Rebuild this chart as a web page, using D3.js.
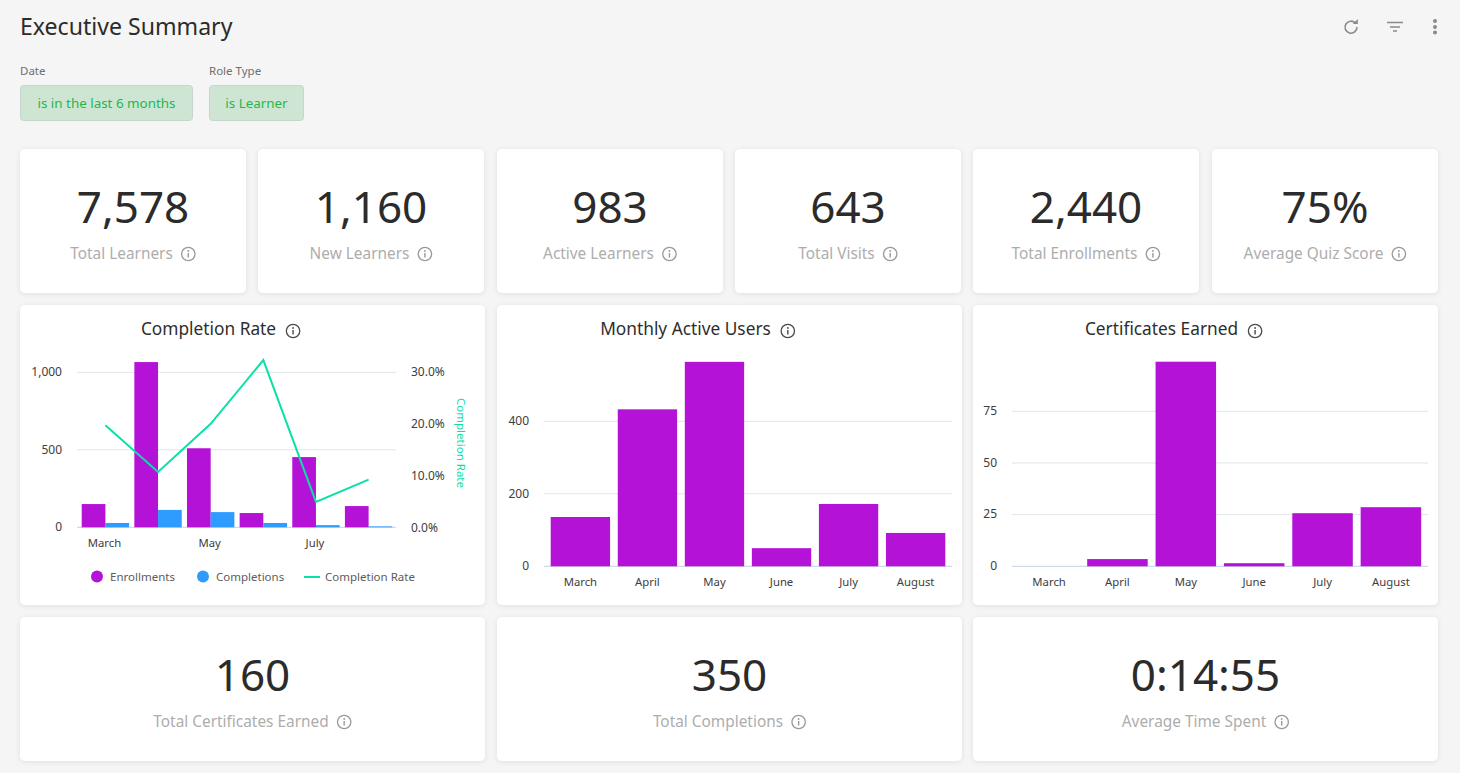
<!DOCTYPE html>
<html>
<head>
<meta charset="utf-8">
<script src="https://cdn.jsdelivr.net/npm/d3@7"></script>
<style>
html, body { margin: 0; padding: 0; background: #f5f5f5; overflow: hidden; }
svg text { font-family: "Noto Sans", sans-serif; }
</style>
</head>
<body>
<div id="chart"></div>
<script>
// chart values
const months = ["March", "April", "May", "June", "July", "August"];
const enrollments = [150, 1066, 510, 92, 453, 137];
const completions = [28, 112, 98, 28, 14, 6];
const completionRate = [19.7, 10.7, 20, 32.3, 4.9, 9.2];
const activeUsers = [136, 433, 564, 50, 172, 92];
const certificates = [0, 3.5, 99, 1.5, 25.7, 28.6];

const enrollTicks = [0, 500, 1000];
const rateTicks = [0, 10, 20, 30];
const activeTicks = [0, 200, 400];
const certTicks = [0, 25, 50, 75];
const sparseMonths = ["March", "May", "July"];

const topLabels = ["Total Learners", "New Learners", "Active Learners", "Total Visits", "Total Enrollments", "Average Quiz Score"];
const topValues = ["7,578", "1,160", "983", "643", "2,440", "75%"];
const bottomLabels = ["Total Certificates Earned", "Total Completions", "Average Time Spent"];
const bottomValues = ["160", "350", "0:14:55"];

const PURPLE = "#b512d8", BLUE = "#2e9bff", TEAL = "#0be0a8";
const width = 1460, height = 773;

const svg = d3.select("#chart").append("svg")
  .attr("width", width)
  .attr("height", height)
  .style("display", "block");

const defs = svg.append("defs");
const shadow = defs.append("filter").attr("id", "shadow")
  .attr("x", "-5%").attr("y", "-5%").attr("width", "110%").attr("height", "115%");
shadow.append("feDropShadow").attr("dx", 0).attr("dy", 1).attr("stdDeviation", 2.5)
  .attr("flood-color", "#000").attr("flood-opacity", 0.09);

function card(x, y, w, h) {
  svg.append("rect").attr("x", x).attr("y", y).attr("width", w).attr("height", h)
    .attr("rx", 5).attr("fill", "#fff").attr("filter", "url(#shadow)");
}

function infoIcon(cx, cy, color) {
  const g = svg.append("g").attr("transform", "translate(" + cx + "," + cy + ")");
  g.append("circle").attr("r", 6.7).attr("fill", "none").attr("stroke", color).attr("stroke-width", 1.3);
  g.append("rect").attr("x", -0.7).attr("y", -1).attr("width", 1.4).attr("height", 4.5).attr("fill", color);
  g.append("circle").attr("cy", -3).attr("r", 0.9).attr("fill", color);
}

// big number tile, the label and icon are centred together
function tile(x, y, w, h, value, label, valueY, labelY) {
  card(x, y, w, h);
  svg.append("text").attr("x", x + w / 2).attr("y", valueY).attr("text-anchor", "middle")
    .attr("font-size", 44).attr("fill", "#2b2b2b").text(value);
  const t = svg.append("text").attr("y", labelY).attr("font-size", 15.4).attr("fill", "#adadad").text(label);
  const tw = t.node().getComputedTextLength();
  const left = x + w / 2 - (tw + 23) / 2;
  t.attr("x", left);
  infoIcon(left + tw + 15.5, labelY - 5, "#999");
}

function chartTitle(cx, label) {
  const t = svg.append("text").attr("y", 335).attr("font-size", 17.3).attr("fill", "#2e2e2e").text(label);
  const tw = t.node().getComputedTextLength();
  const left = cx - (tw + 24) / 2;
  t.attr("x", left);
  infoIcon(left + tw + 17, 331, "#4a4a4a");
}

function styleAxis(g, size) {
  g.select(".domain").remove();
  g.selectAll(".tick line").remove();
  g.selectAll("text").attr("fill", "#3d3d3d").attr("font-size", size);
}

// header
svg.append("text").attr("x", 20).attr("y", 35).attr("font-size", 23.1).attr("fill", "#2b2b2b").text("Executive Summary");

const iconG = svg.append("g").attr("fill", "none").attr("stroke", "#8a8a8a");
iconG.append("path").attr("d", "M1355.5 23.2 A6 6 0 1 0 1357 27").attr("stroke-width", 1.6);
iconG.append("path").attr("d", "M1352.8 24 h5 v-5 z").attr("fill", "#8a8a8a").attr("stroke", "none");
iconG.append("path").attr("d", "M1387 22.5 h16 M1390 27 h10 M1393 31 h4").attr("stroke-width", 1.6);
[21, 27, 32.5].forEach(function(cy) {
  svg.append("circle").attr("cx", 1435).attr("cy", cy).attr("r", 2).attr("fill", "#8a8a8a");
});

// filters
function filterChip(x, w, title, label) {
  svg.append("text").attr("x", x).attr("y", 75).attr("font-size", 11.5).attr("fill", "#6f6f6f").text(title);
  svg.append("rect").attr("x", x + 0.5).attr("y", 85.5).attr("width", w).attr("height", 35).attr("rx", 3)
    .attr("fill", "#cfe5d4").attr("stroke", "#c6d6ca");
  svg.append("text").attr("x", x + w / 2 + 0.5).attr("y", 108).attr("text-anchor", "middle")
    .attr("font-size", 13.4).attr("fill", "#22b84a").text(label);
}
filterChip(20, 172, "Date", "is in the last 6 months");
filterChip(209, 94, "Role Type", "is Learner");

// top row of tiles
const topX = [20, 258, 497, 735, 973, 1212];
topLabels.forEach(function(label, i) {
  tile(topX[i], 149, 226, 144, topValues[i], label, 223, 259);
});

// bottom row of tiles
const bottomX = [20, 497, 973];
bottomLabels.forEach(function(label, i) {
  tile(bottomX[i], 617, 465, 144, bottomValues[i], label, 691, 727);
});

// chart cards
[20, 497, 973].forEach(function(x) { card(x, 305, 465, 300); });

// ---- Completion Rate ----
chartTitle(220.5, "Completion Rate");

const x1 = d3.scaleBand().domain(months).range([77.5, 396.5]).paddingInner(0.1).paddingOuter(0.08);
const x1Inner = d3.scaleBand().domain([0, 1]).range([0, x1.bandwidth()]);
const y1 = d3.scaleLinear().domain([0, 1000]).range([527.3, 372.3]);
const yRate = d3.scaleLinear().domain([0, 30]).range([527.3, 372]);

enrollTicks.slice(1).forEach(function(t) {
  svg.append("line").attr("x1", 77).attr("x2", 396).attr("y1", y1(t)).attr("y2", y1(t)).attr("stroke", "#e2e4e8");
});
svg.append("line").attr("x1", 77).attr("x2", 396).attr("y1", y1(0)).attr("y2", y1(0)).attr("stroke", "#c5cfe6");

svg.selectAll(".enroll").data(enrollments).enter().append("rect")
  .attr("class", "enroll")
  .attr("x", function(d, i) { return x1(months[i]) + x1Inner(0); })
  .attr("y", function(d) { return y1(d); })
  .attr("width", x1Inner.bandwidth())
  .attr("height", function(d) { return y1(0) - y1(d); })
  .attr("fill", PURPLE);
svg.selectAll(".compl").data(completions).enter().append("rect")
  .attr("class", "compl")
  .attr("x", function(d, i) { return x1(months[i]) + x1Inner(1); })
  .attr("y", function(d) { return y1(d); })
  .attr("width", x1Inner.bandwidth())
  .attr("height", function(d) { return y1(0) - y1(d); })
  .attr("fill", BLUE);

const rateLine = d3.line()
  .x(function(d, i) { return x1(months[i]) + x1.bandwidth() / 2; })
  .y(function(d) { return yRate(d); });
svg.append("path").datum(completionRate).attr("d", rateLine)
  .attr("fill", "none").attr("stroke", TEAL).attr("stroke-width", 2);

svg.append("g").attr("transform", "translate(65,-0.5)")
  .call(d3.axisLeft(y1).tickValues(enrollTicks).tickSize(0).tickFormat(d3.format(",")))
  .call(styleAxis, 12);
svg.append("g").attr("transform", "translate(408,0)")
  .call(d3.axisRight(yRate).tickValues(rateTicks).tickSize(0).tickFormat(function(d) { return d.toFixed(1) + "%"; }))
  .call(styleAxis, 12);
svg.append("g").attr("transform", "translate(-1,535.5)")
  .call(d3.axisBottom(x1).tickValues(sparseMonths).tickSize(0))
  .call(styleAxis, 11.3);

svg.append("text").attr("transform", "translate(457,443) rotate(90)").attr("text-anchor", "middle")
  .attr("font-size", 11.5).attr("fill", TEAL).text("Completion Rate");

// legend
function legendText(x, label) {
  svg.append("text").attr("x", x).attr("y", 581).attr("font-size", 11.5).attr("fill", "#5c5c5c").text(label);
}
svg.append("circle").attr("cx", 97).attr("cy", 576.5).attr("r", 6).attr("fill", PURPLE);
legendText(110, "Enrollments");
svg.append("circle").attr("cx", 203).attr("cy", 576.5).attr("r", 6).attr("fill", BLUE);
legendText(216, "Completions");
svg.append("line").attr("x1", 304).attr("x2", 320).attr("y1", 577).attr("y2", 577).attr("stroke", TEAL).attr("stroke-width", 2);
legendText(325, "Completion Rate");

// ---- single series bar charts ----
function barChart(opts) {
  chartTitle(opts.titleX, opts.title);
  const x = d3.scaleBand().domain(months).range(opts.xRange).paddingInner(0.115).paddingOuter(0.1);
  const y = d3.scaleLinear().domain(opts.domain).range(opts.yRange);

  opts.ticks.slice(1).forEach(function(t) {
    svg.append("line").attr("x1", opts.xRange[0]).attr("x2", opts.xRange[1]).attr("y1", y(t)).attr("y2", y(t)).attr("stroke", "#e2e4e8");
  });
  svg.append("line").attr("x1", opts.xRange[0]).attr("x2", opts.xRange[1]).attr("y1", y(0)).attr("y2", y(0)).attr("stroke", "#c5cfe6");

  svg.selectAll(null).data(opts.values).enter().append("rect")
    .attr("x", function(d, i) { return x(months[i]); })
    .attr("y", function(d) { return y(d); })
    .attr("width", x.bandwidth())
    .attr("height", function(d) { return y(0) - y(d); })
    .attr("fill", PURPLE);

  svg.append("g").attr("transform", "translate(" + (opts.xRange[0] - 12) + ",-0.5)")
    .call(d3.axisLeft(y).tickValues(opts.ticks).tickSize(0))
    .call(styleAxis, 12);
  svg.append("g").attr("transform", "translate(0,574.5)")
    .call(d3.axisBottom(x).tickSize(0))
    .call(styleAxis, 11.3);
}

barChart({
  title: "Monthly Active Users", titleX: 697.5, values: activeUsers, ticks: activeTicks,
  xRange: [544, 952], domain: [0, 400], yRange: [566.3, 421.3]
});
barChart({
  title: "Certificates Earned", titleX: 1173.5, values: certificates, ticks: certTicks,
  xRange: [1012, 1428], domain: [0, 75], yRange: [566.3, 411.3]
});
</script>
</body>
</html>
